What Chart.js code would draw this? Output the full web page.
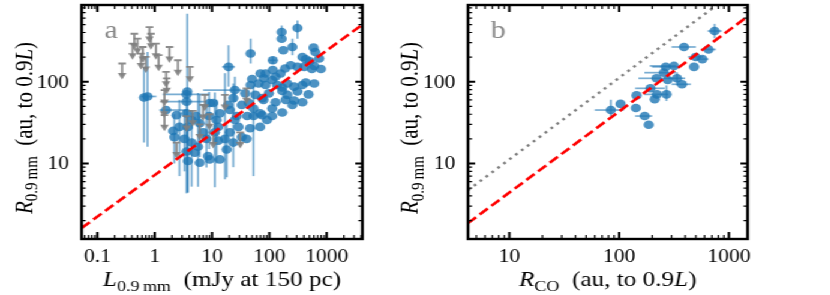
<!DOCTYPE html>
<html>
<head>
  <meta charset="utf-8">
  <title>R0.9mm vs L0.9mm and R_CO</title>
  <script src="https://cdn.jsdelivr.net/npm/chart.js@4"></script>
  <style>
    body { margin: 0; background: #fff; }
    #fig { position: absolute; left: 0; top: 0; width: 692px; height: 295px;
           transform: scaleX(1.2); transform-origin: 0 0; }
    canvas { position: absolute; top: 0; }
  </style>
</head>
<body>
  <!-- the figure is drawn narrow and stretched sideways, like the original -->
  <div id="fig">
    <canvas id="panelA" width="330" height="295" style="left:0"></canvas>
    <canvas id="panelB" width="377" height="295" style="left:315px"></canvas>
  </div>

  <script>
    // ---- panel a: detections (blue) ----
    var lumA = [164, 309, 164, 175, 252, 47, 115, 115, 86, 70, 19.4, 590, 631, 378, 432, 508, 741, 607, 794, 552,
      405, 309, 236, 188, 157, 128, 112, 80, 50, 47, 65, 86, 137, 168, 206, 270, 378, 432, 607, 168,
      206, 309, 482, 192, 270, 378, 252, 168, 112, 75, 53, 44, 33, 75, 57, 98, 128, 25, 38, 19,
      27, 41, 112, 23.5, 25, 53, 91, 1.58, 2.4, 2.1, 2.2, 2.7, 3.6, 3.8, 4.4, 5.3, 6.1, 3.3, 4.4, 3.6,
      3.8, 5.0, 5.7, 7.0, 8.0, 8.5, 9.1, 10.5, 8.9, 12, 13.7, 12.8, 11.2, 12.8, 16.8, 18, 20.5, 23.5, 29, 33,
      40, 46, 69, 13.7, 9.1, 6.1, 0.75, 0.65, 3.7, 3.6, 3.6, 20.5, 69, 79];
    var radA = [405, 453, 336, 243, 266, 221, 183, 139, 126, 126, 152, 261, 231, 201, 188, 178, 192, 156, 143, 143,
      152, 152, 159, 145, 126, 115, 105, 110, 108, 91, 95, 91, 91, 85, 95, 87, 91, 98, 95, 77,
      69, 76, 70, 60, 59, 56, 52, 42, 38, 39, 47, 55, 52, 63, 69, 72, 56, 79, 72, 52,
      38, 38, 47, 63, 34, 38, 34, 45, 39, 25, 21, 28, 41, 28, 34, 38, 31, 20, 18, 14,
      10.7, 13.5, 16, 24, 20, 12.3, 55, 55, 38, 34, 41, 28, 24, 19, 20, 14.8, 24, 18, 28, 21,
      20, 27, 28, 11.2, 11.2, 10.2, 66, 64, 76, 70, 57, 45, 41, 60];
    // error bars of panel a: [index, low, high]
    var radErrA = [[0, 336, 487], [1, 336, 561], [4, 211, 336], [5, 167, 336], [6, 165, 200], [10, 87, 279],
      [57, 57, 115], [63, 40, 95], [65, 7, 90], [71, 7, 60], [78, 5.2, 45], [79, 4.3, 40], [80, 4.4, 30],
      [82, 5.2, 73], [84, 8.9, 50], [92, 5.1, 74], [94, 6.4, 127], [95, 6.8, 30],
      [106, 16, 231], [107, 18, 150], [108, 4.4, 676],
      [77, 8, 45], [76, 12, 70], [88, 15, 75], [89, 10, 60], [70, 10, 40], [72, 20, 75], [97, 9, 30]];
    var lumErrA = [[6, 100, 132], [10, 15, 25], [57, 7, 33], [67, 1.2, 3.6], [106, 0.58, 1.07],
      [109, 1.38, 9.1], [110, 1.6, 8]];

    // ---- panel a: upper limits (grey arrows) ----
    var limLumA = [0.27, 0.44, 0.41, 0.50, 0.575, 0.62, 0.70, 0.81, 0.86, 1.05, 1.17, 1.81, 2.54, 4.1, 1.58,
      1.62, 1.48, 1.45, 1.48, 7.5, 7.0, 16.8, 40, 6.1, 2.4, 3.6, 31, 10.5, 4.6, 9.0];
    var limRadA = [167, 386, 292, 336, 221, 266, 201, 466, 386, 292, 211, 266, 183, 152, 132,
      110, 79, 57, 39, 69, 52, 69, 83, 30, 18, 38, 24, 24, 44, 40];

    // fit line of panel a, end points
    var fitLumA = [0.053, 4200];
    var fitRadA = [1.62, 500];

    // ---- panel b ----
    var rcoB = [741, 390, 653, 498, 573, 481, 316, 266, 255, 219, 337, 374, 277, 193, 144, 221, 270, 211, 103, 84,
      142, 171, 186];
    var radB = [417, 266, 248, 201, 189, 152, 156, 152, 129, 110, 110, 93, 105, 83, 68, 70, 70, 61, 53.5, 45,
      47.6, 38, 29.8];
    var rcoErrB = [[0, 640, 860], [1, 300, 500], [2, 560, 760], [3, 425, 585], [4, 500, 650], [6, 190, 330],
      [7, 200, 340], [8, 170, 330], [9, 150, 300], [10, 280, 400], [11, 300, 450], [13, 140, 260],
      [15, 170, 280], [19, 60, 110], [21, 140, 200]];
    var radErrB = [[0, 340, 510], [10, 90, 130], [16, 58, 90], [19, 38, 60]];
    var fitRcoB = [4.2, 1480];
    var fitRadB = [1.86, 628];
    var oneRcoB = [4.2, 1480];
    var oneRadB = [4.7, 1650];

    // ---- axes ----
    var yTicks = [10, 100];
    var yTickLabels = ['10', '100'];
    var xTicksA = [0.1, 1, 10, 100, 1000];
    var xTickLabelsA = ['0.1', '1', '10', '100', '1000'];
    var xTicksB = [10, 100, 1000];
    var xTickLabelsB = ['10', '100', '1000'];

    var serif = '"Liberation Serif", "DejaVu Serif", serif';
    var blue = 'rgba(31,119,180,0.8)';
    var blueBar = 'rgba(31,119,180,0.6)';
    var grey = 'rgba(128,128,128,0.9)';

    function pts(xs, ys) {
      return xs.map(function(v, i) { return {x: v, y: ys[i]}; });
    }

    // text with italic letters and subscripts, centred on (x, y)
    function richText(ctx, parts, x, y, size, rotate) {
      var sub = Math.round(size * 0.72);
      function setFont(p) { ctx.font = (p.it ? 'italic ' : '') + (p.sub ? sub : size) + 'px ' + serif; }
      ctx.save();
      ctx.translate(x, y);
      if (rotate) ctx.rotate(-Math.PI / 2);
      ctx.fillStyle = '#000';
      ctx.textAlign = 'left';
      ctx.textBaseline = 'alphabetic';
      var w = 0;
      parts.forEach(function(p) { setFont(p); w += ctx.measureText(p.t).width; });
      var cx = -w / 2;
      parts.forEach(function(p) {
        setFont(p);
        ctx.fillText(p.t, cx, p.sub ? size * 0.23 : 0);
        cx += ctx.measureText(p.t).width;
      });
      ctx.restore();
    }

    // error bars drawn under the blue markers
    function errorBars(xs, ys, xErr, yErr, index) {
      return {
        id: 'errorBars',
        beforeDatasetDraw: function(chart, args) {
          if (args.index !== index) return;
          var ctx = chart.ctx, a = chart.chartArea, sx = chart.scales.x, sy = chart.scales.y;
          ctx.save();
          ctx.beginPath();
          ctx.rect(a.left, a.top, a.width, a.height);
          ctx.clip();
          ctx.strokeStyle = blueBar;
          ctx.lineWidth = 1.7;
          yErr.forEach(function(e) {
            var px = sx.getPixelForValue(xs[e[0]]);
            ctx.beginPath();
            ctx.moveTo(px, sy.getPixelForValue(e[1]));
            ctx.lineTo(px, sy.getPixelForValue(e[2]));
            ctx.stroke();
          });
          xErr.forEach(function(e) {
            var py = sy.getPixelForValue(ys[e[0]]);
            ctx.beginPath();
            ctx.moveTo(sx.getPixelForValue(e[1]), py);
            ctx.lineTo(sx.getPixelForValue(e[2]), py);
            ctx.stroke();
          });
          ctx.restore();
        }
      };
    }

    // grey upper limits drawn over the blue markers
    var upperLimits = {
      id: 'upperLimits',
      afterDatasetDraw: function(chart, args) {
        if (args.index !== 1) return;
        var ctx = chart.ctx, a = chart.chartArea, sx = chart.scales.x, sy = chart.scales.y;
        ctx.save();
        ctx.beginPath();
        ctx.rect(a.left, a.top, a.width, a.height);
        ctx.clip();
        ctx.strokeStyle = grey;
        ctx.fillStyle = grey;
        ctx.lineWidth = 1.8;
        limLumA.forEach(function(v, i) {
          var px = sx.getPixelForValue(v);
          var top = sy.getPixelForValue(limRadA[i]);
          var tip = sy.getPixelForValue(limRadA[i] / 1.57);
          ctx.beginPath();
          ctx.moveTo(px - 3.2, top); ctx.lineTo(px + 3.2, top);
          ctx.moveTo(px, top); ctx.lineTo(px, tip - 4);
          ctx.stroke();
          ctx.beginPath();
          ctx.moveTo(px - 3.6, tip - 6.5);
          ctx.lineTo(px + 3.6, tip - 6.5);
          ctx.lineTo(px, tip);
          ctx.closePath();
          ctx.fill();
        });
        ctx.restore();
      }
    };

    // box, inward log ticks on all four sides, tick labels, titles and panel letter
    function frame(letter, xTicks, xLabels, xTitle, yTitleX) {
      return {
        id: 'frame',
        afterDraw: function(chart) {
          var ctx = chart.ctx, a = chart.chartArea, sx = chart.scales.x, sy = chart.scales.y;
          ctx.save();
          ctx.strokeStyle = '#000';
          [sx, sy].forEach(function(scale, k) {
            var e0 = Math.floor(Math.log10(scale.min)), e1 = Math.ceil(Math.log10(scale.max));
            for (var e = e0; e <= e1; e++) {
              for (var m = 1; m < 10; m++) {
                var v = m * Math.pow(10, e);
                if (v < scale.min || v > scale.max) continue;
                var p = scale.getPixelForValue(v);
                var len = m === 1 ? 7 : 4;
                ctx.lineWidth = m === 1 ? 2 : 1.2;
                ctx.beginPath();
                if (k === 0) {
                  ctx.moveTo(p, a.bottom); ctx.lineTo(p, a.bottom - len);
                  ctx.moveTo(p, a.top); ctx.lineTo(p, a.top + len);
                } else {
                  ctx.moveTo(a.left, p); ctx.lineTo(a.left + len * 0.85, p);
                  ctx.moveTo(a.right, p); ctx.lineTo(a.right - len * 0.85, p);
                }
                ctx.stroke();
              }
            }
          });
          ctx.lineWidth = 2.4;
          ctx.strokeRect(a.left, a.top, a.width, a.height);

          ctx.fillStyle = '#000';
          ctx.font = '18px ' + serif;
          ctx.textBaseline = 'alphabetic';
          ctx.textAlign = 'center';
          xTicks.forEach(function(v, i) {
            ctx.fillText(xLabels[i], sx.getPixelForValue(v), a.bottom + 23);
          });
          ctx.textAlign = 'right';
          yTicks.forEach(function(v, i) {
            ctx.fillText(yTickLabels[i], a.left - 10.5, sy.getPixelForValue(v) + 6);
          });

          ctx.fillStyle = '#8a8a8a';
          ctx.font = '25px ' + serif;
          ctx.textAlign = 'left';
          ctx.fillText(letter, a.left + 19, 38);
          ctx.restore();

          richText(ctx, xTitle, (a.left + a.right) / 2, 286, 21, false);
          richText(ctx, [{t: 'R', it: true}, {t: '0.9\u2009mm', sub: true}, {t: '  (au, to 0.9'},
            {t: 'L', it: true}, {t: ')'}], yTitleX, 128, 21, true);
        }
      };
    }

    function options(xMin, xMax, yWidth, padRight) {
      return {
        responsive: false,
        animation: false,
        devicePixelRatio: 1,
        layout: {padding: {left: 0, right: padRight, top: 5, bottom: 0}},
        plugins: {legend: {display: false}, tooltip: {enabled: false}},
        scales: {
          x: {
            type: 'logarithmic', min: xMin, max: xMax,
            grid: {display: false}, border: {display: false}, ticks: {display: false},
            afterFit: function(s) { s.height = 56; }
          },
          y: {
            type: 'logarithmic', min: 1.19, max: 868,
            grid: {display: false}, border: {display: false}, ticks: {display: false},
            afterFit: function(s) { s.width = yWidth; }
          }
        }
      };
    }

    new Chart(document.getElementById('panelA'), {
      type: 'scatter',
      data: {
        datasets: [
          {data: pts(fitLumA, fitRadA), showLine: true, borderColor: '#ff0000', borderWidth: 2.6,
           borderDash: [9, 4], pointRadius: 0},
          {data: pts(lumA, radA), pointRadius: 4.3, backgroundColor: blue, borderWidth: 0}
        ]
      },
      options: options(0.053, 4200, 68, 28),
      plugins: [errorBars(lumA, radA, lumErrA, radErrA, 1), upperLimits,
        frame('a', xTicksA, xTickLabelsA,
          [{t: 'L', it: true}, {t: '0.9\u2009mm', sub: true}, {t: '  (mJy at 150 pc)'}], 26.5)]
    });

    new Chart(document.getElementById('panelB'), {
      type: 'scatter',
      data: {
        datasets: [
          {data: pts(fitRcoB, fitRadB), showLine: true, borderColor: '#ff0000', borderWidth: 2.6,
           borderDash: [9, 4], pointRadius: 0},
          {data: pts(oneRcoB, oneRadB), showLine: true, borderColor: '#808080', borderWidth: 2.4,
           borderDash: [2.4, 4.2], pointRadius: 0},
          {data: pts(rcoB, radB), pointRadius: 4.3, backgroundColor: blue, borderWidth: 0}
        ]
      },
      options: options(4.2, 1480, 75, 69),
      plugins: [errorBars(rcoB, radB, rcoErrB, radErrB, 2),
        frame('b', xTicksB, xTickLabelsB,
          [{t: 'R', it: true}, {t: 'CO', sub: true}, {t: '  (au, to 0.9'}, {t: 'L', it: true}, {t: ')'}], 33)]
    });
  </script>
</body>
</html>
